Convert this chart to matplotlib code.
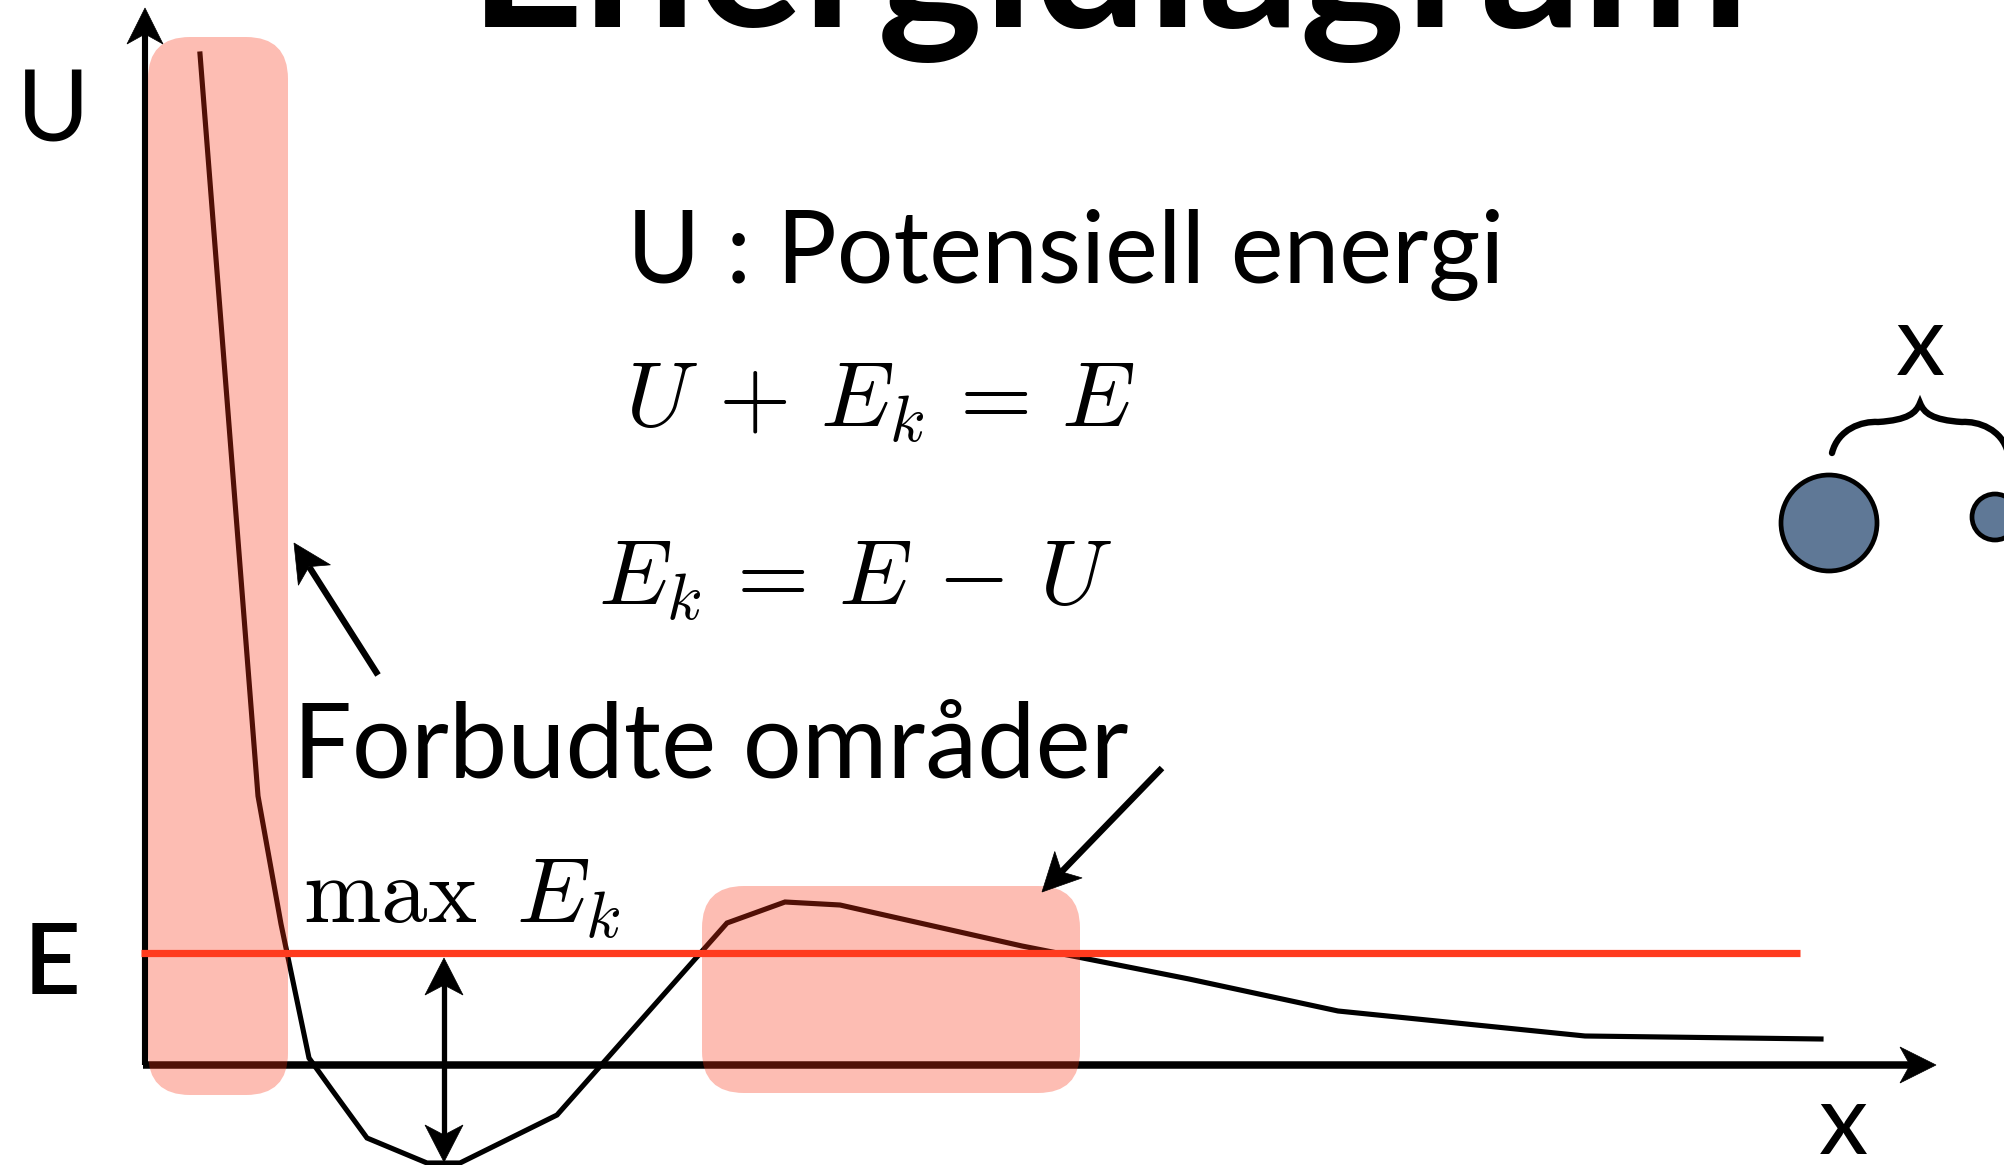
# Energidiagram - potential energy curve with forbidden regions

import matplotlib
matplotlib.use('Agg')
import matplotlib.pyplot as plt
from matplotlib.patches import FancyBboxPatch, Polygon, Circle, PathPatch
from matplotlib.path import Path
import numpy as np

plt.rcParams['mathtext.fontset'] = 'cm'

# potential curve U(x) (diagram units, origin at axes corner)
x_curve = [0.55, 1.13, 1.36, 1.64, 1.87, 2.22, 2.82, 3.15, 4.12, 5.82, 6.40, 6.95,
           8.77, 10.44, 11.93, 14.40, 16.76]
u_curve = [10.11, 2.69, 1.41, 0.07, -0.25, -0.73, -0.98, -0.98, -0.50, 1.42, 1.63, 1.60,
           1.19, 0.86, 0.54, 0.29, 0.26]

# total energy level and its extent
E_level = 1.12
E_xrange = [-0.04, 16.55]

# where max E_k is measured (bottom of the well)
x_well = 2.99

# forbidden regions: (x0, x1), (u0, u1)
forbidden_x = [[0.03, 1.43], [5.57, 9.35]]
forbidden_u = [[-0.30, 10.28], [-0.28, 1.79]]

# axis ends
x_axis_end = 17.91
u_axis_end = 10.57

# two particles on the right
particle_x = [16.84, 18.50]
particle_u = [5.42, 5.48]
particle_r = [0.48, 0.23]

black = 'black'
red = '#ff3b1e'
salmon = '#fa3213'
blue = '#5f7896'

fig = plt.figure(figsize=(20.04, 11.65), dpi=100)
ax = fig.add_axes([0, 0, 1, 1])
ax.set_xlim(-1.45, 18.59)
ax.set_ylim(-1.00, 10.65)
ax.axis('off')


def arrow_head(tip, direction, length=0.36, half=0.18, notch=0.10, z=5):
    d = np.array(direction, dtype=float)
    d = d / np.hypot(*d)
    p = np.array([-d[1], d[0]])
    tip = np.array(tip, dtype=float)
    pts = [tip, tip - length * d + half * p, tip - (length - notch) * d,
           tip - length * d - half * p]
    ax.add_patch(Polygon(pts, closed=True, fc=black, ec=black, lw=0.5, zorder=z))
    return tip - (length - notch) * d


# axes with arrows
y_end = arrow_head((0, u_axis_end), (0, 1))
ax.plot([0, 0], [0, y_end[1]], color=black, lw=4.4, solid_capstyle='butt', zorder=2)
x_end = arrow_head((x_axis_end, 0), (1, 0))
ax.plot([-0.02, x_end[0]], [0, 0], color=black, lw=5.4, solid_capstyle='butt', zorder=2)

# potential curve
ax.plot(x_curve, u_curve, color=black, lw=3.7, solid_joinstyle='miter', zorder=3)

# forbidden regions (translucent, drawn over the curve)
for (x0, x1), (u0, u1) in zip(forbidden_x, forbidden_u):
    ax.add_patch(FancyBboxPatch((x0, u0), x1 - x0, u1 - u0,
                                boxstyle='round,pad=0,rounding_size=0.42',
                                fc=salmon, ec='none', alpha=0.32, zorder=4))

# energy level
ax.plot(E_xrange, [E_level, E_level], color=red, lw=5.2, solid_capstyle='butt', zorder=5)

# double arrow for max kinetic energy
top = arrow_head((x_well, E_level - 0.05), (0, 1), length=0.37, half=0.19, notch=0.10)
bot = arrow_head((x_well, min(u_curve) + 0.01), (0, -1), length=0.37, half=0.19, notch=0.10)
ax.plot([x_well, x_well], [bot[1], top[1]], color=black, lw=3.8, zorder=5)

# pointer arrows to forbidden regions
for tail, tip in [((2.33, 3.90), (1.49, 5.22)), ((10.17, 2.97), (8.97, 1.73))]:
    d = np.subtract(tip, tail)
    end = arrow_head(tip, d, length=0.38, half=0.19, notch=0.10)
    ax.plot([tail[0], end[0]], [tail[1], end[1]], color=black, lw=4.6,
            solid_capstyle='butt', zorder=5)

# particles and brace
for px, pu, pr in zip(particle_x, particle_u, particle_r):
    ax.add_patch(Circle((px, pu), pr, fc=blue, ec=black, lw=3.4, zorder=5))

bx, bu = 17.75, 6.62
w, h = 0.88, 0.50
brace = Path([(bx - w, bu - h), (bx - w + 0.06, bu - h + 0.24), (bx - w + 0.30, bu - h + 0.32),
              (bx - 0.42, bu - 0.19),
              (bx - 0.12, bu - 0.17), (bx - 0.04, bu - 0.10), (bx, bu),
              (bx + 0.04, bu - 0.10), (bx + 0.12, bu - 0.17), (bx + 0.42, bu - 0.19),
              (bx + w - 0.30, bu - h + 0.32), (bx + w - 0.06, bu - h + 0.24), (bx + w, bu - h)],
             [Path.MOVETO, Path.CURVE4, Path.CURVE4, Path.CURVE4,
              Path.CURVE4, Path.CURVE4, Path.CURVE4,
              Path.CURVE4, Path.CURVE4, Path.CURVE4,
              Path.CURVE4, Path.CURVE4, Path.CURVE4])
ax.add_patch(PathPatch(brace, fc='none', ec=black, lw=4.6, capstyle='round', zorder=5))

# texts
sans = ['Lato', 'DejaVu Sans']
ax.text(3.24, 10.38, 'Energidiagram', fontsize=144, fontweight='bold', family=sans,
        ha='left', va='baseline')
ax.text(-0.92, 9.24, 'U', fontsize=71, family=sans, ha='center', va='baseline')
ax.text(-0.93, 0.71, 'E', fontsize=71, fontweight='semibold', family=sans,
        ha='center', va='baseline')
ax.text(16.98, -0.89, 'x', fontsize=71, family=sans, ha='center', va='baseline')
ax.text(17.75, 6.90, 'x', fontsize=71, family=sans, ha='center', va='baseline')
ax.text(4.82, 7.82, 'U : Potensiell energi', fontsize=72, family=sans,
        ha='left', va='baseline')
ax.text(1.48, 2.88, 'Forbudte områder', fontsize=75, family=sans,
        ha='left', va='baseline')
ax.text(4.80, 6.38, r'$U\,+\,E_k\,=\,E$', fontsize=67, ha='left', va='baseline')
ax.text(4.53, 4.60, r'$E_k\,=\,E\,-\,U$', fontsize=67, ha='left', va='baseline')
ax.text(1.58, 1.42, r'$\max\ \,E_k$', fontsize=67, ha='left', va='baseline')

fig.savefig('out.png', dpi=100)
